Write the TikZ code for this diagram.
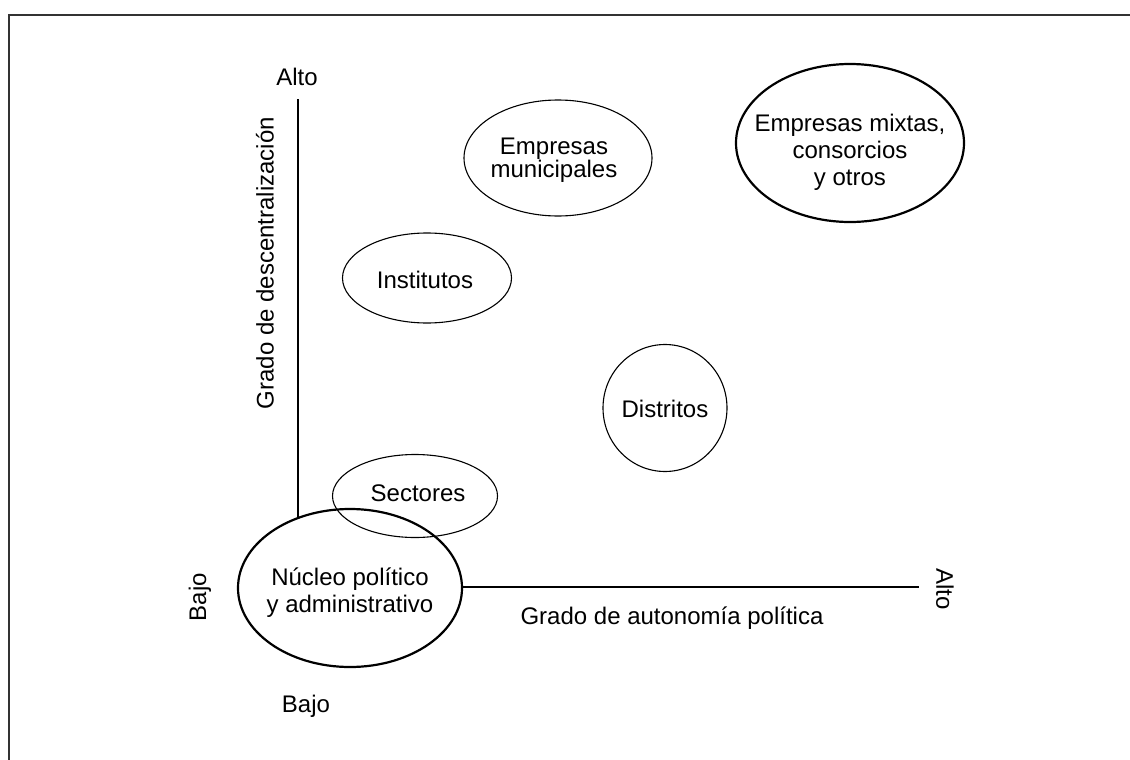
\documentclass[tikz,border=0pt]{standalone}
\usepackage{fontspec}
\setmainfont{Liberation Sans}
\usetikzlibrary{shapes.geometric}
\begin{document}
\begin{tikzpicture}[x=1pt,y=-1pt,
  lbl/.style={font=\fontsize{24}{27}\selectfont, inner sep=0pt, align=center},
  blob/.style={ellipse, draw, line width=1.1pt, inner sep=0pt},
  mainblob/.style={blob, line width=2.2pt},
  axis/.style={line width=1.1pt}]
  \useasboundingbox (0,0) rectangle (1130,760);
  % open frame: top and left edges
  \draw[line width=1.6pt, black!80] (9,760) -- (9,15) -- (1130,15);

  % axes
  \coordinate (ytop) at (298,99);
  \coordinate (origin) at (298,587);
  \coordinate (xend) at (919,587);
  \draw[axis] (ytop) -- (origin) -- (xend);

  % axis labels
  \node[lbl] (altoy) at (297,77) {Alto};
  \node[lbl, rotate=-90] (altox) at (945,589) {Alto};
  \node[lbl, rotate=90] (bajoy) at (200,597) {Bajo};
  \node[lbl] (bajox) at (306,706) {Bajo};
  \node[lbl, rotate=90] (ylabel) at (265,263) {Grado de descentralización};
  \node[lbl] (xlabel) at (672,618) {Grado de autonomía política};

  % outlines of the organisational units
  \node[mainblob, fill=white, minimum width=224pt, minimum height=158pt] (nucleoshape) at (350,588) {};
  \node[blob, minimum width=165pt, minimum height=83pt] (sectoresshape) at (415,496) {};
  \node[blob, minimum width=169pt, minimum height=90pt] (institutosshape) at (427,278) {};
  \node[blob, minimum width=124pt, minimum height=127pt] (distritosshape) at (665,408) {};
  \node[blob, minimum width=188pt, minimum height=116pt] (municipalesshape) at (558,158) {};
  \node[mainblob, minimum width=228pt, minimum height=158pt] (mixtasshape) at (850,143) {};

  % their names
  \node[lbl] (nucleo) at (350,593) {Núcleo político\\y administrativo};
  \node[lbl] (sectores) at (418,493) {Sectores};
  \node[lbl] (institutos) at (425,280) {Institutos};
  \node[lbl] (distritos) at (665,409) {Distritos};
  \node[lbl, font=\fontsize{24}{23}\selectfont] (municipales) at (554,160) {Empresas\\municipales};
  \node[lbl] (mixtas) at (850,152) {Empresas mixtas,\\consorcios\\y otros};
\end{tikzpicture}
\end{document}
